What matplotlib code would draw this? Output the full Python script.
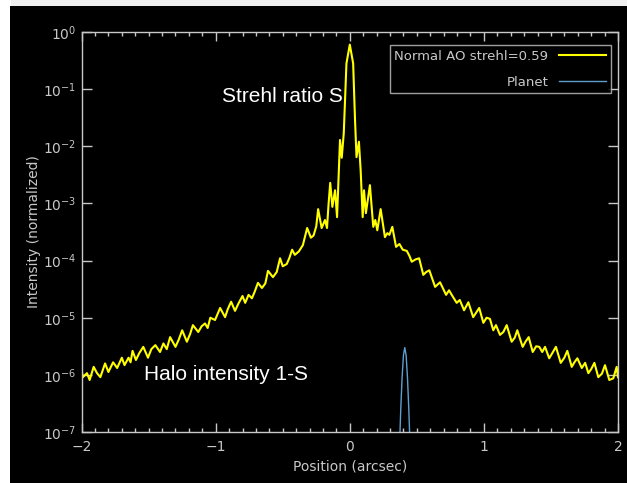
import numpy as np
import matplotlib
matplotlib.use('Agg')
import matplotlib.pyplot as plt
from matplotlib.patches import Rectangle
from matplotlib.ticker import MultipleLocator, NullLocator, LogLocator

# PSF profile (position in arcsec, log10 of intensity)
position = [-2.000, -1.990, -1.960, -1.940, -1.910, -1.885, -1.860, -1.825, -1.800, -1.765,
            -1.735, -1.700, -1.680, -1.650, -1.635, -1.620, -1.595, -1.570, -1.540, -1.505,
            -1.480, -1.450, -1.415, -1.390, -1.365, -1.340, -1.300, -1.275, -1.250, -1.215,
            -1.190, -1.170, -1.130, -1.105, -1.080, -1.060, -1.040, -1.005, -0.967, -0.930,
            -0.910, -0.885, -0.856, -0.830, -0.800, -0.780, -0.755, -0.730, -0.710, -0.685,
            -0.655, -0.630, -0.610, -0.573, -0.545, -0.520, -0.500, -0.470, -0.450, -0.430,
            -0.410, -0.380, -0.350, -0.318, -0.290, -0.270, -0.250, -0.236, -0.210, -0.185,
            -0.170, -0.158, -0.146, -0.130, -0.110, -0.095, -0.073, -0.060, -0.045, -0.025,
            0.000, 0.025, 0.039, 0.050, 0.068, 0.081, 0.096, 0.106, 0.120, 0.150,
            0.175, 0.190, 0.205, 0.230, 0.262, 0.280, 0.295, 0.317, 0.345, 0.370,
            0.395, 0.425, 0.445, 0.462, 0.490, 0.517, 0.548, 0.570, 0.593, 0.636,
            0.673, 0.718, 0.740, 0.760, 0.797, 0.820, 0.852, 0.884, 0.920, 0.945,
            0.965, 0.996, 1.020, 1.045, 1.070, 1.090, 1.120, 1.145, 1.170, 1.207,
            1.230, 1.249, 1.289, 1.310, 1.334, 1.364, 1.390, 1.413, 1.435, 1.456,
            1.487, 1.510, 1.537, 1.573, 1.600, 1.622, 1.655, 1.675, 1.697, 1.730,
            1.755, 1.779, 1.800, 1.824, 1.853, 1.880, 1.903, 1.935, 1.965, 1.990,
            2.000]
log_intensity = [-5.92, -6.04, -5.97, -6.09, -5.86, -5.97, -6.04, -5.80, -5.95, -5.78,
                 -5.88, -5.70, -5.83, -5.70, -5.78, -5.58, -5.74, -5.62, -5.51, -5.70,
                 -5.55, -5.48, -5.60, -5.45, -5.55, -5.34, -5.51, -5.38, -5.22, -5.42,
                 -5.28, -5.13, -5.25, -5.15, -5.10, -5.18, -5.00, -5.04, -4.83, -4.99,
                 -4.85, -4.72, -4.88, -4.75, -4.62, -4.74, -4.60, -4.66, -4.55, -4.39,
                 -4.48, -4.40, -4.18, -4.29, -4.20, -3.96, -4.10, -4.06, -3.95, -3.81,
                 -3.90, -3.84, -3.73, -3.43, -3.60, -3.56, -3.40, -3.10, -3.43, -3.29,
                 -3.43, -3.00, -2.64, -3.06, -2.77, -3.24, -1.89, -2.20, -1.77, -0.55,
                 -0.22, -0.55, -1.54, -2.19, -1.92, -2.42, -3.24, -2.77, -3.17, -2.68,
                 -3.41, -3.29, -3.47, -3.10, -3.59, -3.52, -3.55, -3.41, -3.76, -3.71,
                 -3.81, -3.83, -3.92, -4.02, -3.98, -3.96, -4.25, -4.20, -4.17, -4.46,
                 -4.38, -4.60, -4.52, -4.60, -4.74, -4.69, -4.87, -4.73, -4.99, -4.90,
                 -4.83, -5.09, -5.00, -5.02, -5.22, -5.13, -5.30, -5.25, -5.13, -5.42,
                 -5.35, -5.22, -5.51, -5.42, -5.34, -5.60, -5.50, -5.51, -5.60, -5.51,
                 -5.71, -5.62, -5.51, -5.79, -5.70, -5.58, -5.86, -5.78, -5.71, -5.88,
                 -5.79, -5.97, -5.90, -5.79, -6.04, -5.98, -5.83, -6.09, -6.06, -5.86,
                 -6.04]

# planet peak
planet_pos = [0.37, 0.38, 0.39, 0.40, 0.41, 0.42, 0.43, 0.44, 0.45]
planet_int = [5e-8, 2.5e-7, 9e-7, 2.2e-6, 3.0e-6, 2.2e-6, 9e-7, 2.5e-7, 5e-8]

strehl = 0.59
grey = '#c8c8c8'

fig = plt.figure(figsize=(6.27, 4.83), dpi=100, facecolor='white')
# black window with light grey strip on top
fig.patches.append(Rectangle((11/627, 477/483), 1, 6/483, transform=fig.transFigure,
                             facecolor='#f0f0f0', edgecolor='none', zorder=-2))
fig.patches.append(Rectangle((10/627, 0), 1, 477/483, transform=fig.transFigure,
                             facecolor='black', edgecolor='none', zorder=-1))

ax = fig.add_axes([81.6/627, 51/483, 536.4/627, 400/483])
ax.set_facecolor('black')

ax.plot(position, np.power(10.0, log_intensity), color='#ffff00', lw=1.5,
        label='Normal AO strehl=%.2f' % strehl)
ax.plot(planet_pos, planet_int, color='#5f9fcf', lw=1.0, label='Planet')

ax.set_yscale('log')
ax.set_xlim(-2, 2)
ax.set_ylim(1e-7, 1)
ax.yaxis.set_major_locator(LogLocator(base=10, numticks=10))
ax.yaxis.set_minor_locator(NullLocator())
ax.xaxis.set_major_locator(MultipleLocator(1))
ax.xaxis.set_minor_locator(MultipleLocator(0.1))

for s in ax.spines.values():
    s.set_color(grey)
    s.set_linewidth(1.0)
ax.tick_params(which='both', direction='in', top=True, right=True, colors=grey,
               labelsize=10, width=1.0)
ax.tick_params(axis='y', which='major', length=7.5, pad=4)
ax.tick_params(axis='x', which='major', length=6.5, pad=6)
ax.tick_params(axis='x', which='minor', length=3)

ax.set_xlabel('Position (arcsec)', color=grey, fontsize=10, labelpad=4)
ax.set_ylabel('Intensity (normalized)', color=grey, fontsize=10, labelpad=1)

ax.text(-0.953, 10**-1.225, 'Strehl ratio S', color='white', fontsize=15,
        family='Liberation Sans', va='baseline')
ax.text(-1.535, 10**-6.09, 'Halo intensity 1-S', color='white', fontsize=15,
        family='Liberation Sans', va='baseline')

leg = ax.legend(loc='upper right', bbox_to_anchor=(0.987, 0.9675), borderaxespad=0,
                markerfirst=False, fancybox=False, frameon=True, fontsize=9.5,
                handlelength=3.6, handletextpad=0.8, labelspacing=1.0, borderpad=0.35,
                labelcolor=grey)
leg.get_frame().set_facecolor('black')
leg.get_frame().set_edgecolor(grey)
leg.get_frame().set_linewidth(1.0)

fig.savefig('out.png', dpi=100, facecolor=fig.get_facecolor())
